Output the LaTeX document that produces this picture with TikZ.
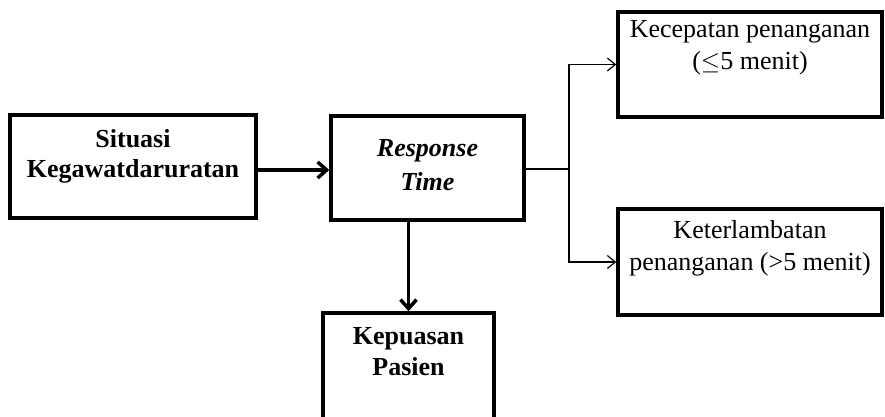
\documentclass[tikz,border=0pt]{standalone}
\usepackage{fontspec}
\setmainfont{Liberation Serif}
\usetikzlibrary{positioning,arrows.meta}
\begin{document}
\begin{tikzpicture}[x=1pt,y=-1pt,
    kotak/.style={draw, line width=3.5pt, inner sep=0pt},
    lbl/.style={align=center, inner sep=0pt, font=\fontsize{26}{32}\selectfont},
    tebal/.style={line width=3.5pt, -{Straight Barb[length=9pt,width=16pt]}},
    tipis/.style={line width=1.2pt, -{Straight Barb[length=8pt,width=13pt]}}]

    %frame:
    \clip (0,0) rectangle (885,417);

    %boxes:
    \node[kotak, minimum width=246pt, minimum height=103pt] (sit) at (133,166.5) {};
    \node[kotak, minimum width=193pt, minimum height=104pt] (resp) at (427.5,168) {};
    \node[kotak, minimum width=264pt, minimum height=105pt] (cep) at (750,64.5) {};
    \node[kotak, minimum width=264pt, minimum height=106pt] (ket) at (750,262) {};
    \node[kotak, minimum width=171pt, minimum height=112pt] (kep) at (408.5,369) {};

    %texts:
    \node[lbl, font=\fontsize{26}{30}\selectfont\bfseries, below=16pt of sit.north] (sitT) {Situasi\\Kegawatdaruratan};
    \node[lbl, font=\fontsize{26}{34}\selectfont\bfseries\itshape, below=25pt of resp.north] (respT) {Response\\Time};
    \node[lbl, below=10pt of cep.north] (cepT) {Kecepatan penanganan\\($\le$5 menit)};
    \node[lbl, below=13pt of ket.north] (ketT) {Keterlambatan\\penanganan (>5 menit)};
    \node[lbl, font=\fontsize{26}{31}\selectfont\bfseries, below=16pt of kep.north] (kepT) {Kepuasan\\Pasien};

    %arrows:
    \coordinate (split) at (569,169);
    \draw[tebal] (sit.east |- 0,170) -- (resp.west |- 0,170);
    \draw[tebal] (kep.north |- resp.south) -- (kep.north);
    \draw[line width=1.2pt] (resp.east |- split) -- (split);
    \draw[tipis] (split) |- (cep.west);
    \draw[tipis] (split) |- (ket.west);

\end{tikzpicture}
\end{document}
